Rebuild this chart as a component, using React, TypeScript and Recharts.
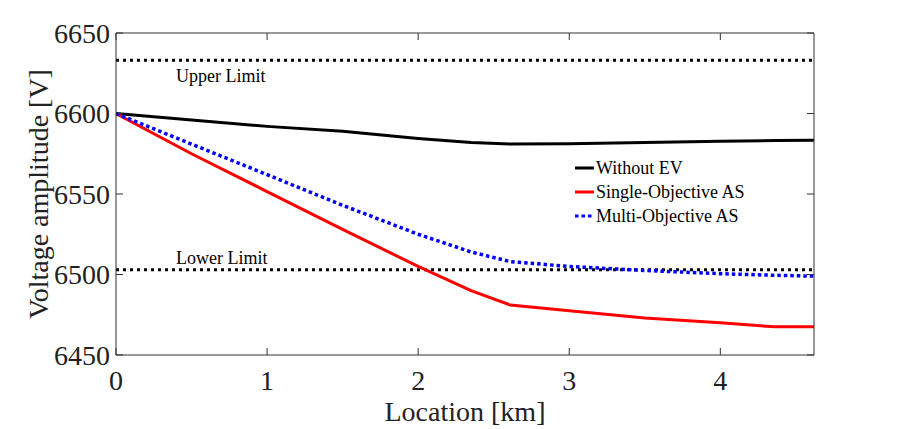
import { Line, LineChart, ReferenceLine, XAxis, YAxis } from "recharts";

// location along the feeder [km]
const locationKm = [0, 0.5, 1, 1.5, 2, 2.35, 2.61, 3, 3.5, 4, 4.36, 4.62];
const withoutEv = [6600, 6596, 6592, 6589, 6584.5, 6582, 6581, 6581.2, 6582, 6582.8, 6583.2, 6583.4];
const singleObjective = [6600, 6575, 6551.5, 6528, 6505, 6490, 6481, 6477.5, 6473, 6470, 6467.5, 6467.5];
const multiObjective = [6600, 6581, 6562, 6543, 6525, 6514, 6508, 6505, 6502.5, 6500.5, 6499.5, 6499];

const upperLimit = 6633;
const lowerLimit = 6503;

const xTicks = [0, 1, 2, 3, 4];
const yTicks = [6450, 6500, 6550, 6600, 6650];

const FONT = "'Liberation Serif', 'Times New Roman', serif";
const AXIS = "#333333";
const serif = { fontFamily: FONT };

const chartData = locationKm.map((km, i) => ({
	km,
	withoutEv: withoutEv[i],
	single: singleObjective[i],
	multi: multiObjective[i],
}));

const legendItems = [
	{ name: "Without EV", color: "#000000", dash: undefined },
	{ name: "Single-Objective AS", color: "#ff0000", dash: undefined },
	{ name: "Multi-Objective AS", color: "#0000ff", dash: "3.5 3" },
];

function BottomTick(props: any) {
	const { x, y, payload } = props;
	return (
		<g>
			<line x1={x} y1={y} x2={x} y2={y - 7} stroke={AXIS} strokeWidth={1} />
			<text x={x} y={y + 35} textAnchor="middle" fontSize={28} style={serif} fill="#222">
				{payload.value}
			</text>
		</g>
	);
}

function TopTick(props: any) {
	const { x, y } = props;
	return <line x1={x} y1={y} x2={x} y2={y + 7} stroke={AXIS} strokeWidth={1} />;
}

function LeftTick(props: any) {
	const { x, y, payload } = props;
	return (
		<g>
			<line x1={x} y1={y} x2={x + 7} y2={y} stroke={AXIS} strokeWidth={1} />
			<text x={x - 6} y={y} dy="0.35em" textAnchor="end" fontSize={28} style={serif} fill="#222">
				{payload.value}
			</text>
		</g>
	);
}

function RightTick(props: any) {
	const { x, y } = props;
	return <line x1={x} y1={y} x2={x - 7} y2={y} stroke={AXIS} strokeWidth={1} />;
}

function LimitLabel(props: any) {
	const { viewBox, value, dy } = props;
	return (
		<text x={viewBox.x + 60} y={viewBox.y + dy} dy="0.35em" fontSize={18} style={serif} fill="#000">
			{value}
		</text>
	);
}

function LegendBox() {
	return (
		<div
			style={{
				position: "absolute",
				left: 575,
				top: 156,
				fontFamily: FONT,
				fontSize: 18,
				color: "#000",
				lineHeight: "24px",
			}}
		>
			{legendItems.map((it) => (
				<div key={it.name} style={{ display: "flex", alignItems: "center", height: 24 }}>
					<svg width={20} height={6} style={{ marginRight: 1 }}>
						<line
							x1={0}
							y1={3}
							x2={19}
							y2={3}
							stroke={it.color}
							strokeWidth={3}
							strokeDasharray={it.dash}
						/>
					</svg>
					<span>{it.name}</span>
				</div>
			))}
		</div>
	);
}

export default function App() {
	return (
		<div
			style={{
				position: "absolute",
				left: 0,
				top: 0,
				width: 900,
				height: 429,
				background: "#fff",
				fontFamily: FONT,
			}}
		>
			<LineChart
				width={900}
				height={429}
				data={chartData}
				margin={{ top: 23, right: 76, left: 56, bottom: 34 }}
				style={serif}
			>
				<XAxis
					dataKey="km"
					type="number"
					domain={[0, 4.62]}
					ticks={xTicks}
					allowDataOverflow
					height={40}
					stroke={AXIS}
					tickSize={0}
					tickMargin={0}
					tickLine={false}
					tick={<BottomTick />}
					label={(p: any) => (
						<text
							x={p.viewBox.x + p.viewBox.width / 2}
							y={p.viewBox.y + 66}
							textAnchor="middle"
							fontSize={28}
							style={serif}
							fill="#222"
						>
							Location [km]
						</text>
					)}
				/>
				<XAxis
					xAxisId="top"
					orientation="top"
					dataKey="km"
					type="number"
					domain={[0, 4.62]}
					ticks={xTicks}
					allowDataOverflow
					height={10}
					stroke={AXIS}
					tickSize={0}
					tickMargin={0}
					tickLine={false}
					tick={<TopTick />}
				/>
				<YAxis
					type="number"
					domain={[6450, 6650]}
					ticks={yTicks}
					allowDataOverflow
					width={60}
					stroke={AXIS}
					tickSize={0}
					tickMargin={0}
					tickLine={false}
					tick={<LeftTick />}
					label={(p: any) => {
						const cx = p.viewBox.x - 18;
						const cy = p.viewBox.y + p.viewBox.height / 2;
						return (
							<text
								x={cx}
								y={cy}
								transform={`rotate(-90 ${cx} ${cy})`}
								textAnchor="middle"
								dy="0.35em"
								fontSize={28}
								style={serif}
								fill="#222"
							>
								Voltage amplitude [V]
							</text>
						);
					}}
				/>
				<YAxis
					yAxisId="right"
					orientation="right"
					type="number"
					domain={[6450, 6650]}
					ticks={yTicks}
					allowDataOverflow
					width={10}
					stroke={AXIS}
					tickSize={0}
					tickMargin={0}
					tickLine={false}
					tick={<RightTick />}
				/>
				<ReferenceLine
					y={upperLimit}
					stroke="#000"
					strokeWidth={3}
					strokeDasharray="3 4"
					label={<LimitLabel value="Upper Limit" dy={15} />}
				/>
				<ReferenceLine
					y={lowerLimit}
					stroke="#000"
					strokeWidth={3}
					strokeDasharray="3 4"
					label={<LimitLabel value="Lower Limit" dy={-12} />}
				/>
				{/* invisible series so the top and right box axes get drawn */}
				<Line
					xAxisId="top"
					yAxisId="right"
					dataKey="withoutEv"
					stroke="none"
					dot={false}
					legendType="none"
					isAnimationActive={false}
				/>
				<Line
					dataKey="withoutEv"
					name="Without EV"
					stroke="#000000"
					strokeWidth={3}
					dot={false}
					type="linear"
					isAnimationActive={false}
				/>
				<Line
					dataKey="single"
					name="Single-Objective AS"
					stroke="#ff0000"
					strokeWidth={3}
					dot={false}
					type="linear"
					isAnimationActive={false}
				/>
				<Line
					dataKey="multi"
					name="Multi-Objective AS"
					stroke="#0000ff"
					strokeWidth={3.5}
					strokeDasharray="3.5 3"
					dot={false}
					type="linear"
					isAnimationActive={false}
				/>
			</LineChart>
			<LegendBox />
		</div>
	);
}
